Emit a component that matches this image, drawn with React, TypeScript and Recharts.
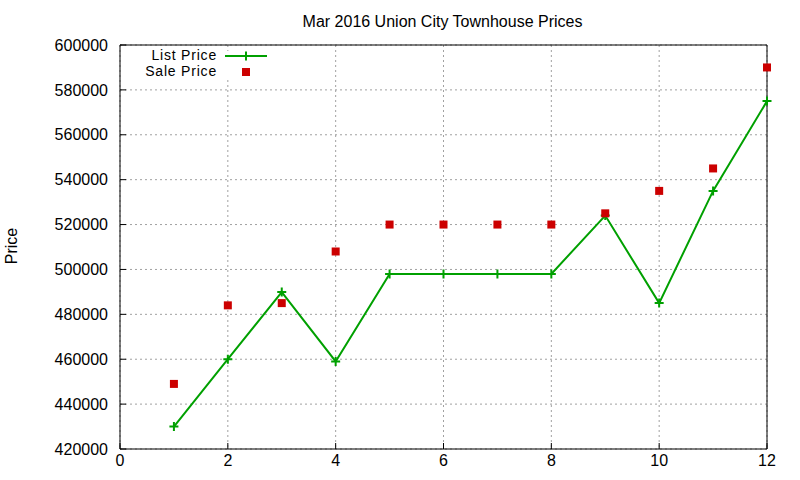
import React from "react";
import {
  ComposedChart,
  Line,
  Scatter,
  XAxis,
  YAxis,
  CartesianGrid,
} from "recharts";

const months = [1, 2, 3, 4, 5, 6, 7, 8, 9, 10, 11, 12];
const listPrices = [
  430000, 460000, 489900, 459000, 498000, 498000, 498000, 498000, 524000,
  485000, 535000, 575000,
];
const salePrices = [
  449000, 484000, 485000, 508000, 520000, 520000, 520000, 520000, 525000,
  535000, 545000, 590000,
];
const xTicks = [0, 2, 4, 6, 8, 10, 12];
const yTicks = [
  420000, 440000, 460000, 480000, 500000, 520000, 540000, 560000, 580000,
  600000,
];

const rows = months.map((m, i) => ({
  month: m,
  list: listPrices[i],
  sale: salePrices[i],
}));

const GREEN = "#00a000";
const RED = "#cc0000";
const FONT = '"Liberation Sans", Arial, sans-serif';

function PlusDot(props: any) {
  const { cx, cy, index } = props;
  if (cx == null || cy == null) return null;
  return (
    <path
      key={`plus-${index}`}
      d={`M${cx - 4.5},${cy}H${cx + 4.5}M${cx},${cy - 4.5}V${cy + 4.5}`}
      stroke={GREEN}
      strokeWidth={2}
      fill="none"
    />
  );
}

function SquareDot(props: any) {
  const { cx, cy } = props;
  if (cx == null || cy == null) return null;
  return <rect x={cx - 4} y={cy - 4} width={8} height={8} fill={RED} />;
}

const tickStyle = { fill: "#000", fontSize: 16, fontFamily: FONT };

export default function App() {
  return (
    <div
      style={{
        position: "absolute",
        left: 0,
        top: 0,
        width: 800,
        height: 480,
        background: "#fff",
        fontFamily: FONT,
      }}
    >
      <ComposedChart
        width={800}
        height={480}
        data={rows}
        margin={{ top: 0, right: 0, bottom: 0, left: 0 }}
      >
        <CartesianGrid stroke="#a0a0a0" strokeDasharray="2 3" />
        <XAxis
          dataKey="month"
          type="number"
          domain={[0, 12]}
          ticks={xTicks}
          interval={0}
          height={31}
          tickSize={-6}
          tickMargin={12}
          stroke="#000"
          tick={tickStyle}
        />
        <XAxis
          xAxisId="top"
          orientation="top"
          dataKey="month"
          type="number"
          domain={[0, 12]}
          ticks={xTicks}
          interval={0}
          height={45}
          tickSize={-6}
          stroke="#000"
          tick={false}
        />
        <YAxis
          type="number"
          domain={[420000, 600000]}
          ticks={yTicks}
          interval={0}
          width={120}
          tickSize={-6}
          tickMargin={18}
          stroke="#000"
          tick={tickStyle}
        />
        <YAxis
          yAxisId="right"
          orientation="right"
          type="number"
          domain={[420000, 600000]}
          ticks={yTicks}
          interval={0}
          width={33}
          tickSize={-6}
          stroke="#000"
          tick={false}
        />
        <Line
          dataKey="list"
          stroke={GREEN}
          strokeWidth={2}
          dot={PlusDot}
          activeDot={false}
          isAnimationActive={false}
        />
        <Scatter
          dataKey="sale"
          shape={SquareDot}
          isAnimationActive={false}
        />
      </ComposedChart>

      {/* title */}
      <div
        style={{
          position: "absolute",
          top: 12,
          left: 120,
          width: 645,
          textAlign: "center",
          fontSize: 16,
          lineHeight: "20px",
          color: "#000",
        }}
      >
        Mar 2016 Union City Townhouse Prices
      </div>

      {/* y axis label */}
      <div
        style={{
          position: "absolute",
          left: 12,
          top: 246,
          transform: "translate(-50%, -50%) rotate(-90deg)",
          fontSize: 16,
          lineHeight: "20px",
          color: "#000",
        }}
      >
        Price
      </div>

      {/* key box */}
      <div
        style={{
          position: "absolute",
          left: 121,
          top: 51,
          width: 154,
          height: 29,
          background: "#fff",
        }}
      />
      <div
        style={{
          position: "absolute",
          left: 110,
          top: 47,
          width: 107,
          textAlign: "right",
          fontSize: 14,
          letterSpacing: 0.8,
          lineHeight: "16px",
          color: "#000",
        }}
      >
        <div>List Price</div>
        <div>Sale Price</div>
      </div>
      <svg
        style={{ position: "absolute", left: 220, top: 46 }}
        width={52}
        height={34}
      >
        <line x1={5} y1={10} x2={47} y2={10} stroke={GREEN} strokeWidth={2} />
        <path d="M21.5,10H30.5M26,5.5V14.5" stroke={GREEN} strokeWidth={2} />
        <rect x={22} y={22} width={8} height={8} fill={RED} />
      </svg>
    </div>
  );
}
